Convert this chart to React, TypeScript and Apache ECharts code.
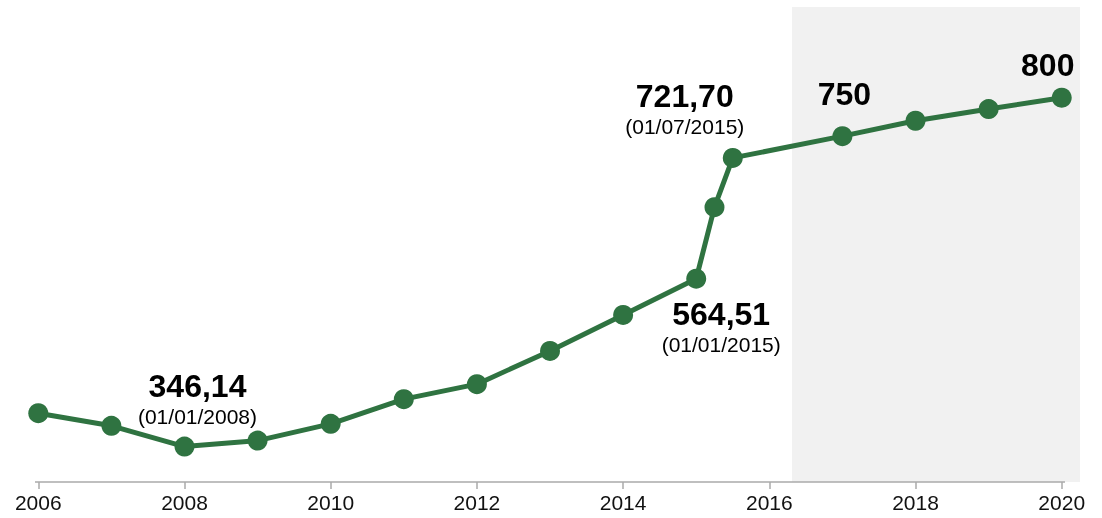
import React, { useEffect, useRef } from "react";
import * as echarts from "echarts";

// ---- data ----
const years = [2006, 2007, 2008, 2009, 2010, 2011, 2012, 2013, 2014, 2015, 2015.25, 2015.5, 2017, 2018, 2019, 2020];
const values = [389.5, 373.1, 346.14, 353.9, 375.7, 407.8, 427.3, 470.5, 517.4, 564.51, 657.6, 721.7, 750, 770.0, 785.2, 800];
const tickYears = [2006, 2008, 2010, 2012, 2014, 2016, 2018, 2020];

// annotated points: index -> [value text, date text]
const annotIdx = [2, 9, 11, 12, 15];
const annotValue = ["346,14", "564,51", "721,70", "750", "800"];
const annotDate = ["(01/01/2008)", "(01/01/2015)", "(01/07/2015)", "", ""];

const projectionStart = 2016.31;
const projectionEnd = 2020.25;
const axisStart = 2005.955;
const axisEnd = 2020.045;
const yMin = 300;
const yMax = 918;

// label offsets (styling)
const annotOffsets: [number, number][] = [
  [13, -48],
  [25, 48],
  [-48, -49],
  [2, -42],
  [-14, -33],
];

const GREEN = "#2F7341";
const FONT = "'Liberation Sans', Arial, Helvetica, sans-serif";

export default function App() {
  const ref = useRef<HTMLDivElement>(null);
  useEffect(() => {
    if (!ref.current) return;
    const chart = echarts.init(ref.current, undefined, { renderer: "svg" });

    const data = years.map((y, i) => {
      const k = annotIdx.indexOf(i);
      if (k < 0) return { value: [y, values[i]] };
      const hasDate = annotDate[k] !== "";
      return {
        value: [y, values[i]],
        label: {
          show: true,
          position: "inside",
          offset: annotOffsets[k],
          formatter: hasDate ? `{a|${annotValue[k]}}\n{b|${annotDate[k]}}` : `{a|${annotValue[k]}}`,
          rich: {
            a: { fontSize: 32, fontWeight: "bold", color: "#000", fontFamily: FONT, lineHeight: 36, align: "center" },
            b: { fontSize: 21, color: "#000", fontFamily: FONT, lineHeight: 26, align: "center" },
          },
        },
      };
    });

    chart.setOption({
      animation: false,
      grid: { left: 35, right: 22, top: 7, bottom: 36 },
      xAxis: {
        type: "value",
        min: axisStart,
        max: projectionEnd,
        splitLine: { show: false },
        axisLine: { show: false },
        axisTick: {
          show: true,
          customValues: tickYears,
          length: 7,
          lineStyle: { color: "#aaaaaa", width: 1.5 },
        },
        axisLabel: {
          customValues: tickYears,
          fontSize: 21,
          color: "#111",
          fontFamily: FONT,
          margin: 10,
          formatter: (v: number) => String(Math.round(v)),
        },
      },
      yAxis: {
        type: "value",
        min: yMin,
        max: yMax,
        show: false,
        splitLine: { show: false },
      },
      series: [
        {
          type: "line",
          data,
          symbol: "circle",
          symbolSize: 20,
          lineStyle: { color: GREEN, width: 5 },
          itemStyle: { color: GREEN },
          label: { show: false },
          clip: false,
          markArea: {
            silent: true,
            itemStyle: { color: "#f1f1f1" },
            data: [[{ xAxis: projectionStart }, { xAxis: projectionEnd }]],
          },
          markLine: {
            silent: true,
            symbol: "none",
            label: { show: false },
            lineStyle: { color: "#aaaaaa", width: 1.5, type: "solid" },
            data: [[{ coord: [axisStart, yMin] }, { coord: [axisEnd, yMin] }]],
          },
        },
      ],
    });
    return () => chart.dispose();
  }, []);
  return <div ref={ref} style={{ position: "fixed", left: 0, top: 0, width: 1102, height: 518 }} />;
}
